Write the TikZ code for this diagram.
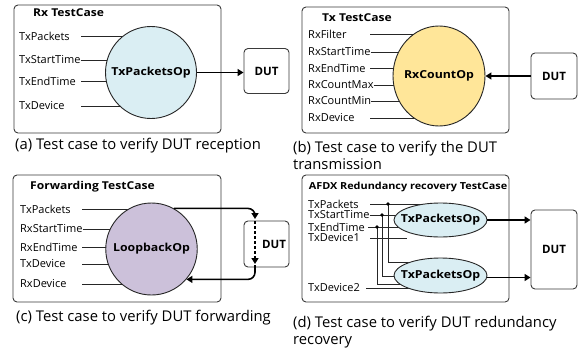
\documentclass[tikz,border=0pt]{standalone}
\usepackage{fontspec}
\setmainfont{Open Sans}
\newfontfamily\widebold{Open Sans}[FakeStretch=1.12]
\usetikzlibrary{arrows.meta,shapes.geometric}
\pgfdeclarelayer{bg}
\pgfsetlayers{bg,main}
\definecolor{opblue}{HTML}{DAEEF3}
\definecolor{opgold}{HTML}{FFE699}
\definecolor{oplav}{HTML}{CCC1DA}
\definecolor{edgecol}{HTML}{3A3A3A}
\tikzset{
  casebox/.style={draw=edgecol, line width=0.9pt, rounded corners=4pt, inner sep=0pt},
  dutbox/.style={draw=edgecol, line width=0.9pt, rounded corners=4pt, inner sep=0pt, font=\fontsize{11.5}{14}\selectfont\bfseries},
  ttl/.style={font=\widebold\fontsize{10.8}{12}\selectfont\bfseries, anchor=west, inner sep=0pt},
  lbl/.style={font=\fontsize{11}{12}\selectfont, anchor=west, inner sep=0pt},
  wire/.style={draw=black!85, line width=0.7pt},
  opshape/.style={draw=black!85, line width=0.9pt, ellipse, inner sep=0pt},
  optext/.style={font=\widebold\fontsize{11}{13}\selectfont\bfseries, inner sep=0pt},
  bigarrow/.style={line width=1.6pt, -{Triangle[length=6pt,width=7pt]}},
  captxt/.style={font=\fontsize{14.8}{17.5}\selectfont, anchor=west, inner sep=0pt, align=left},
  dotj/.style={circle, fill=black, inner sep=0pt, minimum size=3.6pt}
}
\begin{document}
\begin{tikzpicture}[x=1pt,y=-1pt]
\useasboundingbox (0,0) rectangle (578,348);

% ---------------- (a)
\node[casebox, minimum width=207pt, minimum height=128pt] (boxa) at (117.5,69) {};
\node[ttl] (ta) at (33,13) {Rx TestCase};
\node[lbl] (a1) at (19,36) {TxPackets};
\node[lbl] (a2) at (19,60) {TxStartTime};
\node[lbl] (a3) at (19,81) {TxEndTime};
\node[lbl] (a4) at (19,106) {TxDevice};
\coordinate (xa) at (81,0);
\node[opshape, fill=opblue, minimum width=91pt, minimum height=92pt] (opa) at (151,72.5) {};
\node[optext] (opat) at (opa) {TxPacketsOp};
\node[dutbox, minimum width=45pt, minimum height=45pt] (duta) at (266.5,71) {DUT};
\draw[bigarrow] (opa.east) -- (opa.east -| duta.west);
\begin{pgfonlayer}{bg}
\draw[wire] (a1.east -| xa) -- (a1.east -| opa.center);
\draw[wire] (a2.east) -- (a2.east -| opa.center);
\draw[wire] (a3.east -| xa) -- (a3.east -| opa.center);
\draw[wire] (a4.east -| xa) -- (a4.east -| opa.center);
\end{pgfonlayer}
\node[captxt] (capa) at (15,146) {(a) Test case to verify DUT reception};

% ---------------- (b)
\node[casebox, minimum width=207pt, minimum height=126pt] (boxb) at (405.5,70) {};
\node[ttl] (tb) at (322,18) {Tx TestCase};
\node[lbl] (b1) at (308,34) {RxFilter};
\node[lbl] (b2) at (308,52) {RxStartTime};
\node[lbl] (b3) at (308,68) {RxEndTime};
\node[lbl] (b4) at (308,85) {RxCountMax};
\node[lbl] (b5) at (308,101) {RxCountMin};
\node[lbl] (b6) at (308,118) {RxDevice};
\coordinate (xb) at (370,0);
\node[opshape, fill=opgold, minimum width=92pt, minimum height=100pt] (opb) at (439,76) {};
\node[optext] (opbt) at (opb) {RxCountOp};
\node[dutbox, minimum width=46pt, minimum height=46pt] (dutb) at (554,76) {DUT};
\draw[bigarrow] (dutb.west) -- (dutb.west -| opb.east);
\begin{pgfonlayer}{bg}
\draw[wire] (b1.east -| xb) -- (b1.east -| opb.center);
\draw[wire] (b2.east) -- (b2.east -| opb.center);
\draw[wire] (b3.east -| xb) -- (b3.east -| opb.center);
\draw[wire] (b4.east) -- (b4.east -| opb.center);
\draw[wire] (b5.east) -- (b5.east -| opb.center);
\draw[wire] (b6.east -| xb) -- (b6.east -| opb.center);
\end{pgfonlayer}
\node[captxt] (capb) at (293,155.5) {(b) Test case to verify the DUT\\transmission};

% ---------------- (c)
\node[casebox, minimum width=208pt, minimum height=127pt] (boxc) at (117,238.5) {};
\node[ttl] (tc) at (30,187) {Forwarding TestCase};
\node[lbl] (c1) at (20,209) {TxPackets};
\node[lbl] (c2) at (20,229) {RxStartTime};
\node[lbl] (c3) at (20,247) {RxEndTime};
\node[lbl] (c4) at (20,264) {TxDevice};
\node[lbl] (c5) at (20,284) {RxDevice};
\coordinate (xc) at (82,0);
\node[opshape, fill=oplav, minimum width=91.5pt, minimum height=92pt] (opc) at (151.5,249) {};
\node[optext] (opct) at (opc) {LoopbackOp};
\node[dutbox, minimum width=45pt, minimum height=46pt] (dutc) at (266.5,244) {};
\node[font=\fontsize{11.5}{14}\selectfont\bfseries, inner sep=0pt] (dutct) at (274,244) {DUT};
\coordinate (ctip) at (255,219);
\coordinate (cd1) at (255,221);
\coordinate (cd2) at (255,264);
\coordinate (cb) at (255,265);
\draw[bigarrow, rounded corners=7pt] (opc.61) -| (ctip);
\draw[bigarrow, dash pattern=on 3pt off 2pt] (cd1) -- (cd2);
\draw[bigarrow, rounded corners=7pt] (cb) |- (opc.-41);
\begin{pgfonlayer}{bg}
\draw[wire] (c1.east -| xc) -- (c1.east -| opc.center);
\draw[wire] (c2.east) -- (c2.east -| opc.center);
\draw[wire] (c3.east -| xc) -- (c3.east -| opc.center);
\draw[wire] (c4.east -| xc) -- (c4.east -| opc.center);
\draw[wire] (c5.east -| xc) -- (c5.east -| opc.center);
\end{pgfonlayer}
\node[captxt] (capc) at (16,318) {(c) Test case to verify DUT forwarding};

% ---------------- (d)
\node[casebox, minimum width=207pt, minimum height=127pt] (boxd) at (405.5,238.5) {};
\node[font=\widebold\fontsize{9.7}{11}\selectfont\bfseries, inner sep=0pt] (td) at (408,187) {AFDX Redundancy recovery TestCase};
\node[lbl] (d1) at (308,204) {TxPackets};
\node[lbl] (d2) at (308,215) {TxStartTime};
\node[lbl] (d3) at (308,227) {TxEndTime};
\node[lbl] (d4) at (308,238) {TxDevice1};
\node[lbl] (d5) at (308,288) {TxDevice2};
\coordinate (xd1) at (370,0);
\coordinate (xd3) at (368,0);
\coordinate (xd5) at (366,0);
\coordinate (xde) at (407,0);
\coordinate (xj1) at (388,0);
\coordinate (xj2) at (382,0);
\coordinate (xj3) at (377,0);
\node[opshape, fill=opblue, minimum width=93pt, minimum height=34pt] (e1) at (440.5,220) {};
\node[optext] (e1t) at (e1) {TxPacketsOp};
\node[opshape, fill=opblue, minimum width=93pt, minimum height=35pt] (e2) at (440.5,275.5) {};
\node[optext] (e2t) at (e2) {TxPacketsOp};
\node[dutbox, minimum width=46pt, minimum height=79pt] (dutd) at (554,249.5) {DUT};
\draw[bigarrow] (e1.east) -- (e1.east -| dutd.west);
\draw[bigarrow] ([yshift=-2pt]e2.east) -- ([yshift=-2pt]e2.east -| dutd.west);
\coordinate (k1) at (440,262);
\coordinate (k2) at (440,276);
\coordinate (k3) at (440,284);
\node[dotj] (j1) at (d1.east -| xj1) {};
\node[dotj] (j2) at (d2.east -| xj2) {};
\node[dotj] (j3) at (d3.east -| xj3) {};
\begin{pgfonlayer}{bg}
\draw[wire] (d1.east -| xd1) -- (d1.east -| e1.center);
\draw[wire] (d2.east) -- (d2.east -| e1.center);
\draw[wire] (d3.east -| xd3) -- (d3.east -| e1.center);
\draw[wire] (d4.east -| xd1) -- (d4.east -| xde);
\draw[wire] (d5.east -| xd5) -- (d5.east -| e2.center);
\draw[wire] (j1.center) |- (k1);
\draw[wire] (j2.center) |- (k2);
\draw[wire] (j3.center) |- (k3);
\end{pgfonlayer}
\node[captxt] (capd) at (293,332) {(d) Test case to verify DUT redundancy\\recovery};
\end{tikzpicture}
\end{document}
